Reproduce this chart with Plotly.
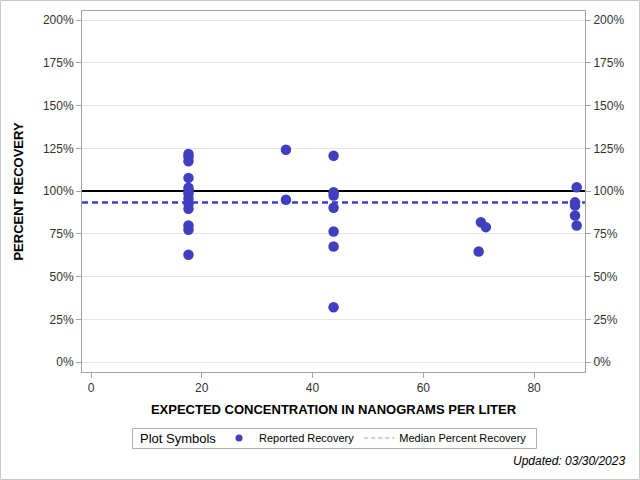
import plotly.graph_objects as go

# expected concentration (ng/L) and reported recovery (%)
conc = [17.6] * 13 + [35.2] * 2 + [43.8] * 7 + [70.4, 71.3, 70.0] + [87.7, 87.4, 87.4, 87.4, 87.7]
recovery = [121.7, 120.1, 117.4, 107.7, 101.9, 100.3, 98.4, 95.5, 92.5, 89.6, 79.9, 77.4, 62.8,
            124.2, 94.9,
            120.7, 99.3, 97.4, 90.2, 76.4, 67.6, 32.1,
            81.8, 78.9, 64.7,
            102.2, 93.4, 91.5, 85.7, 79.9]
median_pct = 93.3
target_pct = 100
x_ticks = [0, 20, 40, 60, 80]
y_ticks = [0, 25, 50, 75, 100, 125, 150, 175, 200]
y_labels = [f"{v}%" for v in y_ticks]

x_range = [-1.63, 89.2]
y_range = [-5.8, 205.3]
blue = "#3F3FBF"
font = "Liberation Sans"

# plot area in pixels, used to place things outside it
L, T, W, H = 82, 11, 503, 361


def px(x, y):
    return (x - L) / W, (T + H - y) / H


fig = go.Figure()

# 100% reference line and median line, spanning the whole x axis
fig.add_trace(go.Scatter(
    x=x_range, y=[target_pct] * 2, mode="lines", showlegend=False, hoverinfo="skip",
    line=dict(color="black", width=2),
))
fig.add_trace(go.Scatter(
    x=x_range, y=[median_pct] * 2, mode="lines", showlegend=False, hoverinfo="skip",
    line=dict(color=blue, width=2.5, dash="6px,4px"),
))
fig.add_trace(go.Scatter(
    x=conc, y=recovery, mode="markers", name="Reported Recovery",
    marker=dict(color=blue, size=10.5), showlegend=False,
))
# legend entries
fig.add_trace(go.Scatter(
    x=[None], y=[None], mode="markers", name="Reported Recovery",
    marker=dict(color=blue, size=7),
))
fig.add_trace(go.Scatter(
    x=[None], y=[None], mode="lines", name="Median Percent Recovery",
    line=dict(color="#9a9ae6", width=1, dash="4px,3px"),
))
# right-hand copy of the y axis
fig.add_trace(go.Scatter(x=[None], y=[None], yaxis="y2", showlegend=False, hoverinfo="skip"))

axis_common = dict(
    showline=True, linecolor="#9ea3a8", linewidth=1,
    ticks="outside", ticklen=5, tickcolor="#9ea3a8",
    tickfont=dict(family=font, size=12, color="#333"),
    zeroline=False,
)

lx, ly = px(219, 438)
fig.update_layout(
    width=640, height=480,
    margin=dict(l=L, r=640 - L - W, t=T, b=480 - T - H),
    paper_bgcolor="white", plot_bgcolor="white",
    font=dict(family=font, color="black"),
    xaxis=dict(
        range=x_range, tickvals=x_ticks, showgrid=False, mirror=True,
        title=dict(text="<b>EXPECTED CONCENTRATION IN NANOGRAMS PER LITER</b>",
                   font=dict(family=font, size=13), standoff=10),
        **axis_common,
    ),
    yaxis=dict(
        range=y_range, tickvals=y_ticks, ticktext=y_labels,
        showgrid=True, gridcolor="#e6e6e6", gridwidth=1,
        title=dict(text="<b>PERCENT RECOVERY</b>", font=dict(family=font, size=13), standoff=16),
        **axis_common,
    ),
    yaxis2=dict(
        range=y_range, tickvals=y_ticks, ticktext=y_labels,
        overlaying="y", side="right", showgrid=False,
        **axis_common,
    ),
    showlegend=True,
    legend=dict(
        orientation="h", x=lx, xanchor="left", y=ly, yanchor="middle",
        font=dict(family=font, size=11), bgcolor="rgba(0,0,0,0)",
        itemwidth=30, tracegroupgap=0,
    ),
)

# legend box and its title
bx0, by0 = px(132.5, 448.5)
bx1, by1 = px(536.5, 428.5)
fig.add_shape(
    type="rect", xref="paper", yref="paper", x0=bx0, x1=bx1, y0=by0, y1=by1,
    line=dict(color="#b0b0b0", width=1), fillcolor="rgba(0,0,0,0)",
)
tx, ty = px(138, 438)
fig.add_annotation(
    text="Plot Symbols", xref="paper", yref="paper", x=tx, y=ty,
    xanchor="left", yanchor="middle", showarrow=False,
    font=dict(family=font, size=13, color="black"),
)

ux, uy = px(627, 461)
fig.add_annotation(
    text="<i>Updated: 03/30/2023</i>", xref="paper", yref="paper",
    x=ux, y=uy, xanchor="right", yanchor="middle",
    showarrow=False, font=dict(family=font, size=12, color="black"),
)
fx0, fy0 = px(0.5, 479.5)
fx1, fy1 = px(639.5, 0.5)
fig.add_shape(
    type="rect", xref="paper", yref="paper", x0=fx0, x1=fx1, y0=fy0, y1=fy1,
    line=dict(color="#c8c8c8", width=1), fillcolor="rgba(0,0,0,0)", layer="below",
)

fig.write_html("out.html", config={"displayModeBar": False},
               post_script="document.body.style.margin='0';")
